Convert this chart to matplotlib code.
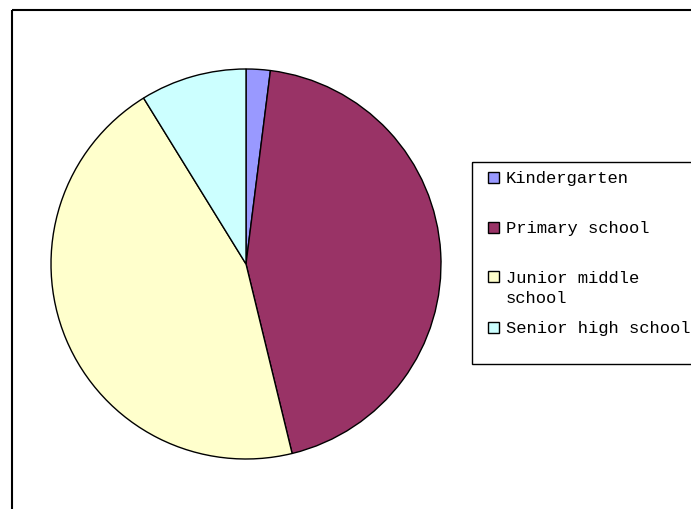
import matplotlib.pyplot as plt
from matplotlib.patches import Rectangle

# shares of students by school level (%)
labels = ["Kindergarten", "Primary school", "Junior middle\nschool", "Senior high school"]
shares = [2.0, 44.2, 45.0, 8.8]
colors = ["#9999FF", "#993366", "#FFFFCC", "#CCFFFF"]

W, H = 691, 509
fig = plt.figure(figsize=(W / 100, H / 100), dpi=100)

# overlay in pixel coords for frame and legend
ov = fig.add_axes([0, 0, 1, 1])
ov.set_xlim(0, W)
ov.set_ylim(H, 0)
ov.axis("off")
ov.add_patch(Rectangle((12, 10), 720, 520, fill=False, lw=1.5, ec="black", clip_on=False))

# pie axes: centre (246, 264), radius 195 px
cx, cy, r = 246, 264, 195
m = 1.05
ax = fig.add_axes([(cx - r * m) / W, (H - cy - r * m) / H, 2 * r * m / W, 2 * r * m / H])
ax.pie(shares, colors=colors, startangle=90, counterclock=False, radius=1,
       wedgeprops=dict(edgecolor="black", linewidth=1))
ax.set_xlim(-m, m)
ax.set_ylim(-m, m)
ax.axis("off")

# legend
ov.add_patch(Rectangle((472, 162), 260, 202, fill=False, lw=1, ec="black", clip_on=False))
ys = [178, 228, 277, 328]
for lab, col, y in zip(labels, colors, ys):
    ov.add_patch(Rectangle((488, y - 6), 11, 11, fc=col, ec="black", lw=1))
    n_lines = lab.count("\n") + 1
    ov.text(506, y + (n_lines - 1) * 11.5, lab, fontsize=12.3, family="Liberation Mono",
            va="center", linespacing=1.4)

fig.savefig("out.png", dpi=100)
